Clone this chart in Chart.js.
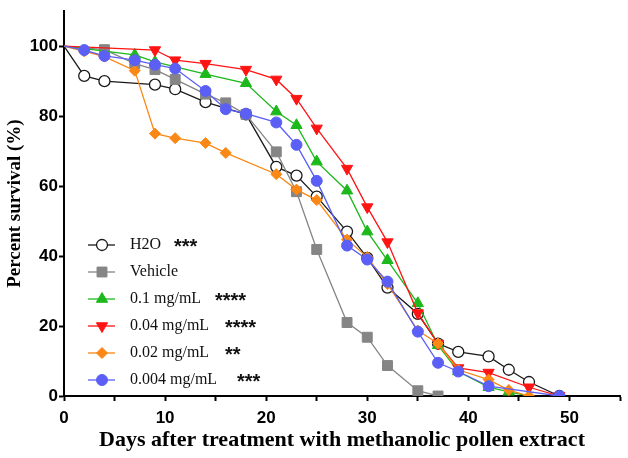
<!DOCTYPE html>
<html>
<head>
<meta charset="utf-8">
<script src="https://cdn.jsdelivr.net/npm/chart.js@4.4.1/dist/chart.umd.min.js"></script>
<style>
  html, body { margin: 0; padding: 0; background: #fff; }
  #wrap { width: 628px; height: 458px; }
</style>
</head>
<body>
<div id="wrap"><canvas id="survival" width="628" height="458"></canvas></div>
<script>
// survival data (day, percent)
const h2oDays = [0, 2, 4, 9, 11, 14, 18, 21, 23, 25, 28, 30, 32, 35, 37, 39, 42, 44, 46, 49];
const h2oVals = [100, 91.5, 90, 89, 87.7, 84, 80.5, 65.5, 63, 57, 47, 39.5, 31, 23.5, 15, 12.6, 11.3, 7.5, 4, 0];

const vehicleDays = [0, 4, 7, 9, 11, 14, 16, 18, 21, 23, 25, 28, 30, 32, 35, 37];
const vehicleVals = [100, 99, 95, 93.3, 90.5, 86.3, 83.8, 80.5, 69.8, 58.4, 41.9, 21, 16.8, 8.7, 1.5, 0];

const d01Days = [0, 7, 9, 14, 18, 21, 23, 25, 28, 30, 32, 35, 37, 39, 42, 44, 46];
const d01Vals = [100, 97.5, 95.5, 92, 89.4, 81.3, 77.4, 67, 58.7, 47, 38.8, 26.5, 14.5, 7, 2.5, 1.2, 0];

const d004Days = [0, 9, 11, 14, 18, 21, 23, 25, 28, 30, 32, 35, 37, 39, 42, 46, 49];
const d004Vals = [100, 98.9, 96, 95, 93.3, 90.5, 85, 76.5, 65, 54, 44, 23.7, 15, 8, 6.7, 2.5, 0];

const d002Days = [0, 2, 4, 7, 9, 11, 14, 16, 21, 23, 25, 28, 30, 32, 35, 37, 39, 42, 44, 46];
const d002Vals = [100, 98.5, 97, 93, 75, 73.7, 72.3, 69.5, 63.4, 59, 56, 44.7, 39.7, 32, 18.7, 15, 7.5, 4.7, 1.7, 0];

const d0004Days = [0, 2, 4, 7, 9, 11, 14, 16, 18, 21, 23, 25, 28, 30, 32, 35, 37, 39, 42, 49];
const d0004Vals = [100, 98.9, 97.2, 96, 94.7, 93.6, 87.2, 82, 80.7, 78.2, 71.8, 61.5, 43, 39, 32.7, 18.4, 9.5, 7, 2.8, 0];

const seriesNames = ['H2O', 'Vehicle', '0.1 mg/mL', '0.04 mg/mL', '0.02 mg/mL', '0.004 mg/mL'];
const seriesStars = ['***', '', '****', '****', '**', '***'];
const xTicks = [0, 5, 10, 15, 20, 25, 30, 35, 40, 45, 50, 55];
const yTicks = [0, 20, 40, 60, 80, 100];

function pts(days, vals) {
  return days.map((d, i) => ({ x: d, y: vals[i] }));
}

function series(label, days, vals, color, style, radius, extra) {
  return Object.assign({
    label: label,
    data: pts(days, vals),
    borderColor: color,
    backgroundColor: color,
    pointBackgroundColor: color,
    pointBorderColor: color,
    pointStyle: style,
    markerSize: radius,
    // no marker on the day-0 start point
    pointRadius: (c) => (c.dataIndex === 0 ? 0 : radius),
    pointBorderWidth: 1,
    borderWidth: 1.3,
    tension: 0,
    fill: false
  }, extra || {});
}

const datasets = [
  series(seriesNames[0], h2oDays, h2oVals, '#1a1a1a', 'circle', 5.5,
    { pointBackgroundColor: '#fff', pointBorderWidth: 1.3, order: 5 }),
  series(seriesNames[1], vehicleDays, vehicleVals, '#858585', 'rect', 7, { order: 4 }),
  series(seriesNames[2], d01Days, d01Vals, '#1cb81c', 'triangle', 6.5, { order: 3 }),
  series(seriesNames[3], d004Days, d004Vals, '#ff1414', 'triangle', 6.5, { pointRotation: 180, order: 2 }),
  series(seriesNames[4], d002Days, d002Vals, '#fb8714', 'rectRot', 5.5, { order: 1 }),
  series(seriesNames[5], d0004Days, d0004Vals, '#5b5ff5', 'circle', 5.5, { order: 0 })
];

// legend drawn by hand so the significance stars can sit where they do in the figure
const starX = [174, 0, 215, 225, 225, 237];
const legendPlugin = {
  id: 'starLegend',
  afterDraw(chart) {
    const ctx = chart.ctx;
    ctx.save();
    datasets.forEach((ds, i) => {
      const y = 245 + i * 27;
      ctx.strokeStyle = ds.borderColor;
      ctx.lineWidth = 1.3;
      ctx.beginPath();
      ctx.moveTo(88, y);
      ctx.lineTo(115, y);
      ctx.stroke();
      ctx.fillStyle = ds.pointBackgroundColor;
      ctx.strokeStyle = ds.pointBorderColor;
      ctx.lineWidth = ds.pointBorderWidth;
      Chart.helpers.drawPoint(ctx, {
        pointStyle: ds.pointStyle,
        radius: ds.markerSize,
        rotation: ds.pointRotation || 0,
        borderWidth: ds.pointBorderWidth
      }, 102, y);
      ctx.fillStyle = '#111';
      ctx.font = '16px "Liberation Serif", "Times New Roman", serif';
      ctx.textBaseline = 'middle';
      ctx.textAlign = 'left';
      ctx.fillText(seriesNames[i], 130, y);
      if (seriesStars[i]) {
        ctx.font = 'bold 20px "Liberation Sans", Arial, sans-serif';
        ctx.fillText(seriesStars[i], starX[i], y + 2);
      }
    });
    ctx.restore();
  }
};

const ctx = document.getElementById('survival').getContext('2d');
const chart = new Chart(ctx, {
  type: 'line',
  data: { datasets: datasets },
  options: {
    responsive: false,
    animation: false,
    layout: { padding: { top: 3, right: 4, left: 0, bottom: 0 } },
    plugins: {
      legend: { display: false },
      tooltip: { enabled: false }
    },
    scales: {
      x: {
        type: 'linear',
        min: 0,
        max: 55,
        afterBuildTicks: (scale) => { scale.ticks = xTicks.map(v => ({ value: v })); },
        afterFit: (scale) => { scale.height = 62; },
        ticks: {
          autoSkip: false,
          maxRotation: 0,
          padding: 7,
          color: '#000',
          font: { family: '"Liberation Sans", Arial, sans-serif', size: 17, weight: 'bold' },
          callback: (v) => (v % 10 === 0 ? v : '')
        },
        grid: { drawOnChartArea: false, color: '#000', tickLength: 5, tickWidth: 2 },
        border: { color: '#000', width: 2 },
        title: {
          display: true,
          text: 'Days after treatment with methanolic pollen extract',
          color: '#000',
          padding: { top: 0, bottom: 4 },
          font: { family: '"Liberation Serif", "Times New Roman", serif', size: 22, weight: 'bold' }
        }
      },
      y: {
        min: 0,
        max: 110,
        afterBuildTicks: (scale) => { scale.ticks = yTicks.map(v => ({ value: v })); },
        afterFit: (scale) => { scale.width = 64; },
        ticks: {
          padding: 1,
          color: '#000',
          font: { family: '"Liberation Sans", Arial, sans-serif', size: 17, weight: 'bold' }
        },
        grid: { drawOnChartArea: false, color: '#000', tickLength: 5, tickWidth: 2 },
        border: { color: '#000', width: 2 },
        title: {
          display: true,
          text: 'Percent survival (%)',
          color: '#000',
          padding: { top: 4, bottom: 0 },
          font: { family: '"Liberation Serif", "Times New Roman", serif', size: 19, weight: 'bold' }
        }
      }
    }
  },
  plugins: [legendPlugin]
});
</script>
</body>
</html>
